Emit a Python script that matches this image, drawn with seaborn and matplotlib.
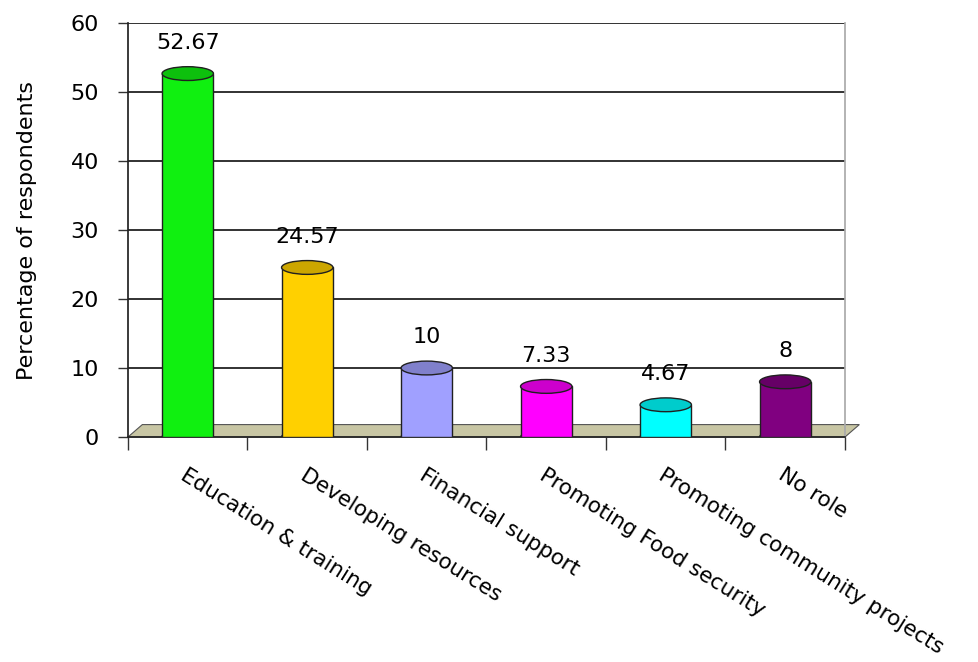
import matplotlib
matplotlib.use("Agg")
import matplotlib.pyplot as plt
import seaborn as sns
import pandas as pd
import numpy as np
from matplotlib.patches import Ellipse, Polygon
import matplotlib.colors as mcolors

categories = ["Education & training", "Developing resources", "Financial support",
              "Promoting Food security", "Promoting community projects", "No role"]
values = [52.67, 24.57, 10, 7.33, 4.67, 8]
value_labels = ["52.67", "24.57", "10", "7.33", "4.67", "8"]
colors = ["#10f010", "#ffd000", "#a0a0ff", "#ff00ff", "#00ffff", "#800080"]
yticks = [0, 10, 20, 30, 40, 50, 60]

sns.set_theme(style="white")
plt.rcParams['font.family'] = ['DejaVu Sans']
plt.rcParams['text.color'] = 'black'
plt.rcParams['xtick.color'] = 'black'
plt.rcParams['ytick.color'] = 'black'
plt.rcParams['axes.labelcolor'] = 'black'

df = pd.DataFrame({"cat": categories, "val": values})

fig = plt.figure(figsize=(9.79, 6.62), dpi=100)
ax = fig.add_axes([128/979, 1-437/662, (845-128)/979, (437-23)/662])

sns.barplot(data=df, x="cat", y="val", hue="cat", palette=colors, legend=False,
            saturation=1, width=0.43, edgecolor="#202020", linewidth=1.0, ax=ax, zorder=3)

ax.set_ylim(0, 60)
ax.set_xlim(-0.5, len(categories) - 0.5)
ax.set_yticks(yticks)
ax.set_yticklabels([str(t) for t in yticks], fontsize=16)
ax.yaxis.grid(True, color="#222222", linewidth=1.3, zorder=0)
ax.set_axisbelow(True)

# floor
floor = Polygon([[0, 0], [1, 0], [1.02, 0.03], [0.02, 0.03]], closed=True,
                transform=ax.transAxes, facecolor="#c8c6a4", edgecolor="#555555",
                linewidth=0.8, zorder=1, clip_on=False)
ax.add_patch(floor)

# cylinder caps and labels
for p, v, lab, c in zip(ax.patches, values, value_labels, colors):
    x0 = p.get_x(); w = p.get_width(); top = p.get_height()
    cx = x0 + w / 2
    dark = tuple(np.array(mcolors.to_rgb(c)) * 0.8)
    ax.add_patch(Ellipse((cx, top), w, 2.0, facecolor=dark, edgecolor="#202020",
                         linewidth=1.0, zorder=4))
    ax.add_patch(Ellipse((cx, 0), w, 2.0, facecolor=c, edgecolor="#202020",
                         linewidth=1.0, zorder=2))
    ax.text(cx, top + 3.0, lab, ha="center", va="bottom", fontsize=16, color="black")

ax.set_xlabel("")
ax.set_ylabel("Percentage of respondents", fontsize=16, labelpad=24)
ax.set_xticks(range(len(categories)))
ax.set_xticklabels(categories, rotation=-32, ha="left", va="top",
                   rotation_mode="anchor", fontsize=15.5)
ax.tick_params(axis="x", which="major", length=0, pad=20)
ax.set_xticks(np.arange(-0.5, len(categories), 1.0), minor=True)
ax.tick_params(axis="x", which="minor", length=9, width=1, color="#333333", direction="out", bottom=True)
ax.tick_params(axis="y", length=7, width=1, color="#333333", direction="out", left=True, pad=14)

ax.spines["top"].set_visible(False)
ax.spines["right"].set_color("#aaaaaa")
ax.spines["left"].set_color("#222222")
ax.spines["bottom"].set_color("#222222")

fig.savefig("out.png", dpi=100)
